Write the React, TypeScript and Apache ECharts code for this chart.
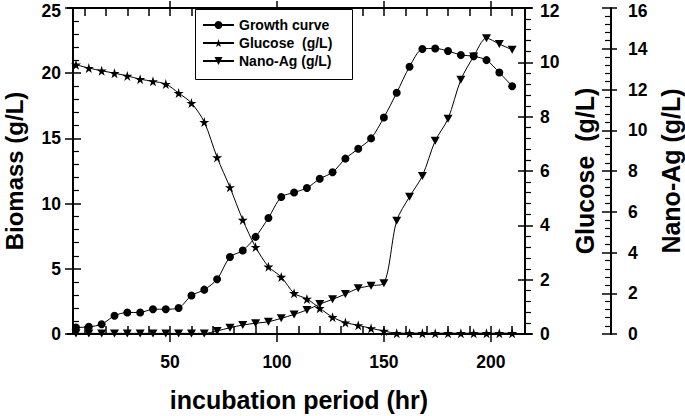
import React, { useEffect, useRef } from "react";
import * as echarts from "echarts";

const hours = [6, 12, 18, 24, 30, 36, 42, 48, 54, 60, 66, 72, 78, 84, 90, 96, 102, 108, 114, 120, 126, 132, 138, 144, 150, 156, 162, 168, 174, 180, 186, 192, 198, 204, 210];
const growth = [0.5, 0.55, 0.75, 1.4, 1.65, 1.65, 1.9, 1.9, 2.0, 2.95, 3.4, 4.2, 5.9, 6.4, 7.45, 8.9, 10.5, 10.85, 11.2, 11.9, 12.4, 13.45, 14.2, 15.0, 16.6, 18.5, 20.5, 21.85, 21.9, 21.7, 21.4, 21.3, 21.0, 20.05, 19.0];
const glucose = [9.91, 9.79, 9.69, 9.6, 9.5, 9.38, 9.3, 9.2, 8.87, 8.5, 7.8, 6.5, 5.4, 4.2, 3.2, 2.48, 2.1, 1.5, 1.29, 0.95, 0.62, 0.42, 0.32, 0.21, 0.11, 0.03, 0.03, 0.03, 0.03, 0.03, 0.03, 0.03, 0.03, 0.03, 0.03];
const nanoAg = [0.03, 0.03, 0.03, 0.03, 0.03, 0.03, 0.03, 0.03, 0.03, 0.03, 0.03, 0.15, 0.31, 0.44, 0.53, 0.6, 0.77, 0.96, 1.18, 1.47, 1.7, 1.96, 2.24, 2.37, 2.49, 5.56, 6.74, 7.76, 9.48, 10.56, 12.48, 13.62, 14.52, 14.23, 13.95];
const xMajorTicks = [50, 100, 150, 200];
const xMinorTicks = [10, 20, 30, 40, 60, 70, 80, 90, 110, 120, 130, 140, 160, 170, 180, 190, 210];
const biomassMax = 25;
const glucoseMax = 12;
const nanoMax = 16;

const FONT = "'Liberation Sans', Arial, Helvetica, sans-serif";
const BLACK = "#000";
const XMIN = 4.6;
const XMAX = 216;

const STAR = "path://M50,0 L61,35 L98,35 L68,57 L79,91 L50,70 L21,91 L32,57 L2,35 L39,35 Z";
const TRI_DOWN = "path://M0,0 L10,0 L5,9 Z";

export default function App() {
  const ref = useRef<HTMLDivElement>(null);
  useEffect(() => {
    if (!ref.current) return;
    const chart = echarts.init(ref.current, undefined, { renderer: "svg" });
    const tickStyle = { color: BLACK, width: 1.5 };
    const labelStyle = { fontSize: 17.5, lineHeight: 14, fontWeight: "bold", color: BLACK, fontFamily: FONT };
    const nameStyle = { fontSize: 25, fontWeight: "bold", color: BLACK, fontFamily: FONT };
    const xBase = { type: "value", min: XMIN, max: XMAX, splitLine: { show: false } };
    const topLabel = (max: number) => ({
      ...labelStyle,
      formatter: (v: number) => (v === max ? `{t|${v}}` : `${v}`),
      rich: { t: { ...labelStyle, padding: [5, 0, 0, 0] } },
    });
    const option: any = {
      animation: false,
      backgroundColor: "#fff",
      grid: { left: 73, right: 160, top: 8, bottom: 82, containLabel: false, outerBoundsMode: "none" },
      graphic: [
        { type: "rect", z: 3, shape: { x: 195.5, y: 9.5, width: 157, height: 70 }, style: { fill: "#fff", stroke: BLACK, lineWidth: 1 } },
        { type: "line", z: 3, shape: { x1: 67, y1: 8, x2: 532, y2: 8 }, style: { stroke: BLACK, lineWidth: 2 } },
        { type: "line", z: 3, shape: { x1: 67, y1: 334, x2: 532, y2: 334 }, style: { stroke: BLACK, lineWidth: 2 } },
      ],
      legend: {
        orient: "vertical",
        left: 202,
        top: 17,
        z: 5,
        padding: 0,
        itemGap: 2,
        itemWidth: 31,
        itemHeight: 10,
        textStyle: { fontSize: 14, lineHeight: 16, fontWeight: "bold", color: BLACK, fontFamily: FONT },
        data: ["Growth curve", "Glucose  (g/L)", "Nano-Ag (g/L)"],
      },
      xAxis: [
        {
          ...xBase,
          position: "bottom",
          axisLine: { show: true, onZero: false, lineStyle: { color: BLACK, width: 2 } },
          axisTick: { show: true, inside: false, length: 8, customValues: xMajorTicks, lineStyle: tickStyle },
          axisLabel: { ...labelStyle, customValues: xMajorTicks, margin: 21 },
          name: "incubation period (hr)",
          nameLocation: "middle",
          nameGap: 53,
          nameTextStyle: nameStyle,
        },
        {
          ...xBase,
          position: "bottom",
          axisLine: { show: false, onZero: false },
          axisTick: { show: true, inside: true, length: 8, customValues: xMajorTicks.concat(xMinorTicks), lineStyle: tickStyle },
          axisLabel: { show: false },
        },
        {
          ...xBase,
          position: "top",
          axisLine: { show: true, onZero: false, lineStyle: { color: BLACK, width: 2 } },
          axisTick: { show: true, inside: false, length: 7, customValues: xMajorTicks, lineStyle: tickStyle },
          axisLabel: { show: false },
        },
        {
          ...xBase,
          position: "top",
          axisLine: { show: false, onZero: false },
          axisTick: { show: true, inside: true, length: 8, customValues: xMajorTicks.concat(xMinorTicks), lineStyle: tickStyle },
          axisLabel: { show: false },
        },
      ],
      yAxis: [
        {
          type: "value", position: "left", min: 0, max: biomassMax, interval: 5,
          splitLine: { show: false },
          axisLine: { show: true, onZero: false, lineStyle: { color: BLACK, width: 2 } },
          axisTick: { show: true, inside: false, length: 8, lineStyle: tickStyle },
          axisLabel: { ...topLabel(biomassMax), margin: 12 },
          name: "Biomass (g/L)", nameLocation: "middle", nameGap: 47, nameRotate: 90,
          nameTextStyle: { ...nameStyle, fontSize: 24 },
        },
        {
          type: "value", position: "left", min: 0, max: biomassMax, interval: 5,
          splitLine: { show: false },
          axisLine: { show: false, onZero: false },
          axisTick: { show: true, inside: true, length: 8, lineStyle: tickStyle },
          minorTick: { show: true, splitNumber: 5, length: 6, lineStyle: { color: BLACK, width: 1.2 } },
          axisLabel: { show: false },
        },
        {
          type: "value", position: "right", min: 0, max: glucoseMax, interval: 2,
          splitLine: { show: false },
          axisLine: { show: true, onZero: false, lineStyle: { color: BLACK, width: 2 } },
          axisTick: { show: true, inside: false, length: 8, lineStyle: tickStyle },
          minorTick: { show: true, splitNumber: 5, length: 6, lineStyle: { color: BLACK, width: 1.2 } },
          axisLabel: { ...topLabel(glucoseMax), margin: 15 },
          name: "Glucose  (g/L)", nameLocation: "middle", nameGap: 47, nameRotate: 90,
          nameTextStyle: nameStyle,
        },
        {
          type: "value", position: "right", min: 0, max: glucoseMax, interval: 2,
          splitLine: { show: false },
          axisLine: { show: false, onZero: false },
          axisTick: { show: true, inside: true, length: 7, lineStyle: tickStyle },
          axisLabel: { show: false },
        },
        {
          type: "value", position: "right", offset: 86, min: 0, max: nanoMax, interval: 2,
          splitLine: { show: false },
          axisLine: { show: true, onZero: false, lineStyle: { color: BLACK, width: 2 } },
          axisTick: { show: true, inside: false, length: 6, lineStyle: tickStyle },
          axisLabel: { ...topLabel(nanoMax), margin: 17 },
          name: "Nano-Ag (g/L)", nameLocation: "middle", nameGap: 47, nameRotate: 90,
          nameTextStyle: nameStyle,
        },
        {
          type: "value", position: "right", offset: 86, min: 0, max: nanoMax, interval: 2,
          splitLine: { show: false },
          axisLine: { show: false, onZero: false },
          axisTick: { show: true, inside: true, length: 9, lineStyle: tickStyle },
          minorTick: { show: true, splitNumber: 5, length: 6, lineStyle: { color: BLACK, width: 1.2 } },
          axisLabel: { show: false },
        },
      ],
      series: [
        {
          type: "line", name: "Growth curve", xAxisIndex: 0, yAxisIndex: 0,
          data: hours.map((h, i) => [h, growth[i]]),
          smooth: 0.3, symbol: "circle", symbolSize: 8,
          lineStyle: { color: BLACK, width: 1 }, itemStyle: { color: BLACK },
        },
        {
          type: "line", name: "Glucose  (g/L)", xAxisIndex: 0, yAxisIndex: 2,
          data: hours.map((h, i) => [h, glucose[i]]),
          smooth: 0.3, symbol: STAR, symbolSize: 10,
          lineStyle: { color: BLACK, width: 1 }, itemStyle: { color: BLACK },
        },
        {
          type: "line", name: "Nano-Ag (g/L)", xAxisIndex: 0, yAxisIndex: 4,
          data: hours.map((h, i) => [h, nanoAg[i]]),
          smooth: 0.3, symbol: TRI_DOWN, symbolSize: [9, 8],
          lineStyle: { color: BLACK, width: 1 }, itemStyle: { color: BLACK },
        },
      ],
    };
    chart.setOption(option);
    return () => chart.dispose();
  }, []);
  return (
    <div
      ref={ref}
      style={{ position: "fixed", left: 0, top: 0, width: 685, height: 416, background: "#fff" }}
    />
  );
}
